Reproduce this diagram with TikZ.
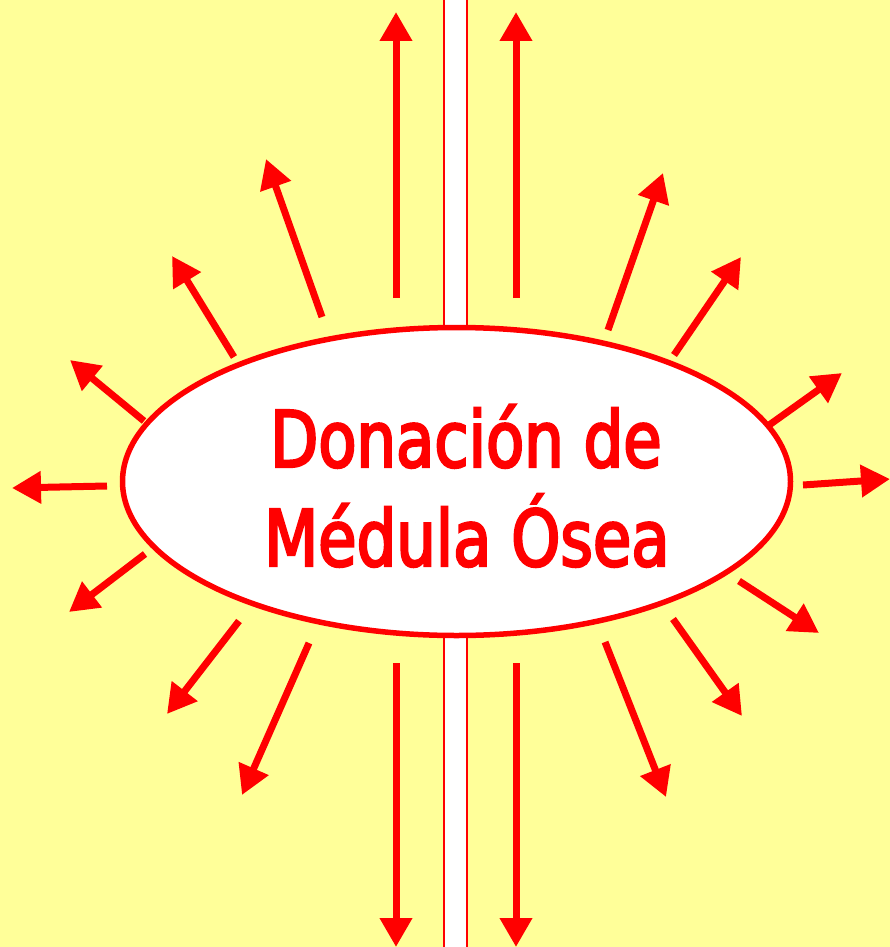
\documentclass[tikz,border=0pt]{standalone}
\usepackage{fontspec}
\usetikzlibrary{arrows.meta,shapes.geometric}
\newfontfamily\rotulo[FakeStretch=0.89,FakeBold=3]{DejaVu Sans Condensed}
\definecolor{fondo}{HTML}{FFFF99}
\definecolor{rojo}{HTML}{FF0000}
\tikzset{every picture/.style={line width=0.75pt}}

\begin{document}
\begin{tikzpicture}[x=1pt,y=1pt,yscale=-1,
  flecha/.style={draw=rojo,line width=7pt,-{Triangle[length=29pt,width=31pt]}},
  texto/.style={text=rojo,font=\rotulo\fontsize{78}{99}\selectfont,inner sep=0pt,anchor=base}]
%set diagram 890 x 947
\useasboundingbox (0,0) rectangle (890,947);
\fill[fondo] (0,0) rectangle (890,947);

%Shape: Rectangle [stripe]
\draw[rojo,line width=2pt,fill=white] (444,-2) rectangle (467,949);

%Straight Lines [arrows, tail/tip]
\foreach \xa/\ya/\xb/\yb in {
  396/298/396/12, 516/298/516/12, 396/663/396/947, 516/663/516/947,
  322/317/266/159, 234/357/172/256, 144/421/70/360, 107/486/12/488,
  145/554/69/612, 239/621/167/714, 309/643/242/795,
  608/330/663/173, 674/355/741/257, 765/428/842/373, 803/485/890/479,
  739/581/819/633, 673/619/742/716, 605/642/666/797}
  \draw[flecha] (\xa,\ya) -- (\xb,\yb);

%Shape: Ellipse
\node[ellipse,draw=rojo,line width=5.5pt,fill=white,minimum width=668pt,minimum height=308pt,inner sep=0pt] (donacion) at (456.5,481.5) {};

% Text Node
\node[texto] (linea1) at (466,467) {Donación de};
% Text Node
\node[texto] (linea2) at (467,566) {Médula Ósea};

\end{tikzpicture}
\end{document}
